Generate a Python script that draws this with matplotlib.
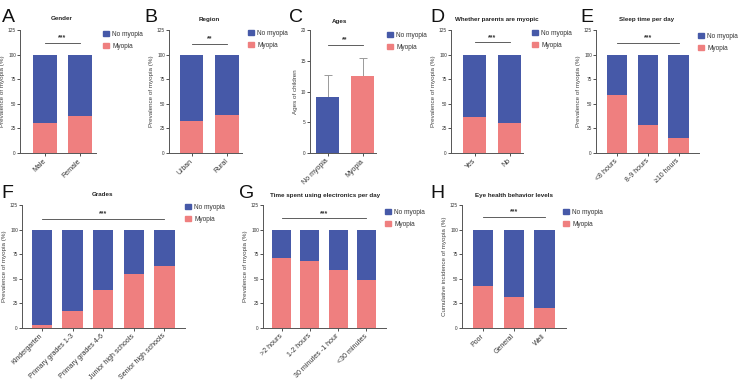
import numpy as np
import matplotlib
matplotlib.use("Agg")
import matplotlib.pyplot as plt
from matplotlib.patches import Patch

plt.rcParams['font.family'] = ['Liberation Sans', 'DejaVu Sans']

BLUE = '#4659a8'
PINK = '#ef7f7f'
DARK = '#333333'

W, H = 744, 384

# ---- data ----
gender_labels = ['Male', 'Female']
gender_myopia = [30.7, 37.5]

region_labels = ['Urban', 'Rural']
region_myopia = [32.4, 38.2]

age_labels = ['No myopia', 'Myopia']
age_mean = [9.1, 12.6]
age_sd = [3.6, 2.9]

parent_labels = ['Yes', 'No']
parent_myopia = [36.9, 30.7]

sleep_labels = ['<8 hours', '8-9 hours', '\u226510 hours']
sleep_myopia = [59.0, 28.0, 15.4]

grade_labels = ['Kindergarten', 'Primary grades 1-3', 'Primary grades 4-6',
                'Junior high schools', 'Senior high schools']
grade_myopia = [3.4, 17.0, 39.0, 54.6, 62.8]

elec_labels = ['>2 hours', '1-2 hours', '30 minutes -1 hour', '<30 minutes']
elec_myopia = [70.9, 68.2, 59.3, 48.8]

eye_labels = ['Poor', 'General', 'Well']
eye_myopia = [43.0, 31.8, 20.3]

fig = plt.figure(figsize=(W / 100, H / 100), dpi=100)


def px_axes(left, right, top, bottom):
    return fig.add_axes([left / W, 1 - bottom / H, (right - left) / W, (bottom - top) / H])


def style(ax, c0, sp, left, right, n, labels, ymax, yticks, ylabel):
    ax.set_xlim(-(c0 - left) / sp, (right - c0) / sp)
    ax.set_ylim(0, ymax)
    ax.set_yticks(yticks)
    ax.set_xticks(np.arange(n))
    ax.set_xticklabels(labels, rotation=45, ha='right', va='center',
                       rotation_mode='anchor', fontsize=5.0, color=DARK)
    ax.tick_params(axis='y', labelsize=3.4, length=2, width=0.6, pad=1, colors=DARK)
    ax.tick_params(axis='x', length=2, width=0.6, pad=3, colors=DARK)
    for s in ['top', 'right']:
        ax.spines[s].set_visible(False)
    for s in ['left', 'bottom']:
        ax.spines[s].set_linewidth(0.7)
        ax.spines[s].set_color('#555555')
    ax.set_ylabel(ylabel, fontsize=4.5, color='#444444', labelpad=2)


def sig(ax, n, y, stars, off):
    ax.plot([0, n - 1], [y, y], color='#444444', lw=0.6)
    ax.text((n - 1) / 2, y + off, stars, ha='center', va='bottom', fontsize=5,
            fontweight='bold', color=DARK)


def legend(x, y):
    handles = [Patch(color=BLUE, label='No myopia'), Patch(color=PINK, label='Myopia')]
    fig.legend(handles=handles, loc='upper left', bbox_to_anchor=(x / W, 1 - y / H),
               frameon=False, fontsize=4.7, handlelength=0.9, handleheight=0.9,
               handletextpad=0.5, labelspacing=0.75, borderaxespad=0, borderpad=0,
               labelcolor=DARK)


def stacked(left, right, top, bottom, c0, sp, bw, labels, myopia, stars, sig_y,
            ylabel='Prevalence of myopia (%)'):
    ax = px_axes(left, right, top, bottom)
    n = len(labels)
    x = np.arange(n)
    my = np.array(myopia)
    ax.bar(x, my, width=bw / sp, color=PINK, zorder=2)
    ax.bar(x, 100 - my, bottom=my, width=bw / sp, color=BLUE, zorder=2)
    style(ax, c0, sp, left, right, n, labels, 125, [0, 25, 50, 75, 100, 125], ylabel)
    sig(ax, n, sig_y, stars, 1.5)
    return ax


def title(x, y, s):
    fig.text(x / W, 1 - y / H, s, ha='center', va='center', fontsize=4.5,
             fontweight='bold', color='#222222')


def letter(x, y, s):
    fig.text(x / W, 1 - y / H, s, ha='left', va='center', fontsize=14, color='#111111')


# ---- top row ----
stacked(20, 96, 30, 153, 45, 35, 24, gender_labels, gender_myopia, '***', 112)
legend(103, 31)
title(62, 19, 'Gender')
letter(2, 18, 'A')

stacked(169, 242, 30, 153, 191.5, 35.5, 23.5, region_labels, region_myopia, '**', 111)
legend(248, 30)
title(209, 19, 'Region')
letter(144, 18, 'B')

ax = px_axes(310, 376, 30, 153)
xc = np.arange(2)
ax.bar(xc, age_mean, width=23 / 35, color=[BLUE, PINK], zorder=2)
ax.errorbar(xc, age_mean, yerr=[[0, 0], age_sd], fmt='none', ecolor='#9a9a9a',
            elinewidth=0.7, capsize=3, capthick=0.7, zorder=1)
style(ax, 327.5, 35, 310, 376, 2, age_labels, 20, [0, 5, 10, 15, 20], 'Ages of children')
sig(ax, 2, 17.6, '**', 0.25)
legend(387, 32)
title(340, 21, 'Ages')
letter(289, 18, 'C')

stacked(451, 523, 30, 153, 474.5, 35, 23, parent_labels, parent_myopia, '***', 112.5)
legend(532, 30)
title(497, 19, 'Whether parents are myopic')
letter(430, 18, 'D')

stacked(596, 699, 30, 153, 617, 30.75, 20.5, sleep_labels, sleep_myopia, '***', 112)
legend(698, 33)
title(647, 19, 'Sleep time per day')
letter(580, 18, 'E')

# ---- bottom row ----
stacked(22, 185, 205, 328, 42, 30.6, 20.5, grade_labels, grade_myopia, '***', 111)
legend(185, 204)
title(103, 195, 'Grades')
letter(1, 194, 'F')

stacked(263, 386, 205, 328, 281.5, 28.3, 19, elec_labels, elec_myopia, '***', 111.5)
legend(385, 209)
title(325, 195, 'Time spent using electronics per day')
letter(239, 194, 'G')

stacked(462, 566, 205, 328, 483, 30.75, 20.5, eye_labels, eye_myopia, '***', 113,
        ylabel='Cumulative incidence of myopia (%)')
legend(563, 209)
title(514, 195, 'Eye health behavior levels')
letter(430, 194, 'H')

fig.savefig('out.png', dpi=100)
